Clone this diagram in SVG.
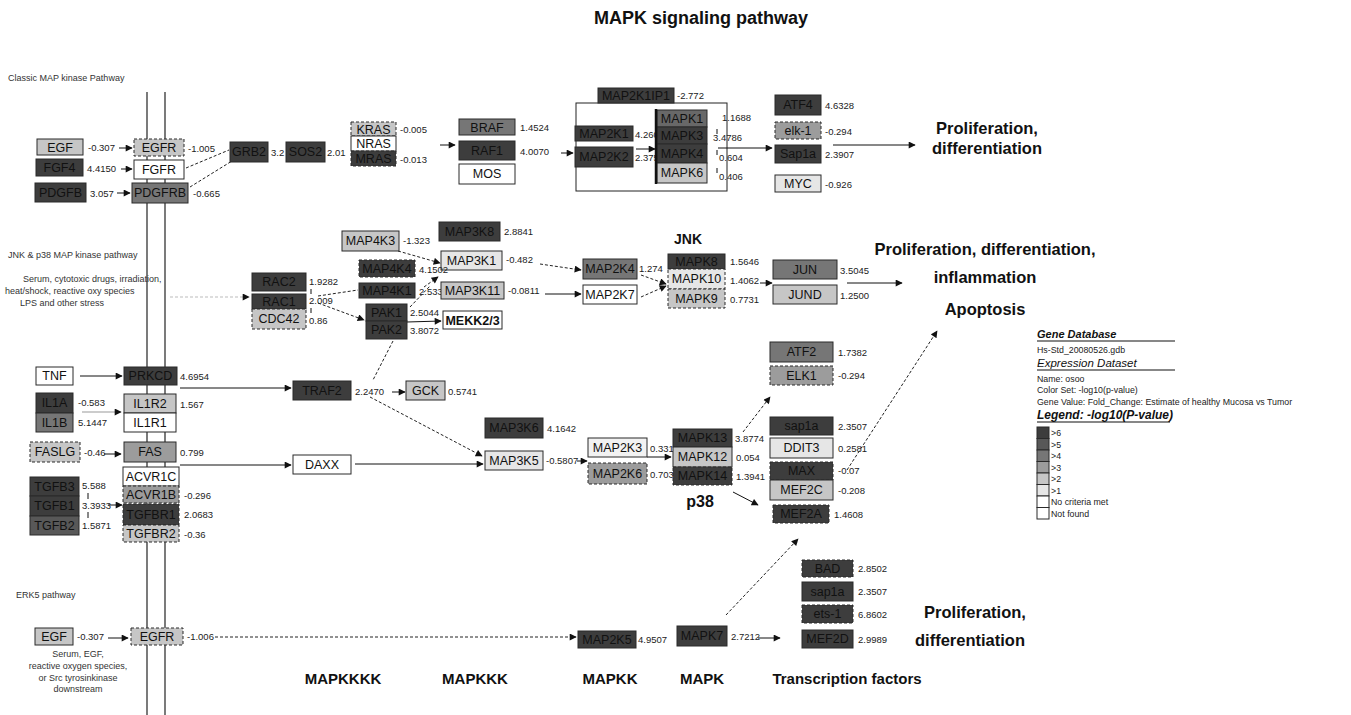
<svg xmlns="http://www.w3.org/2000/svg" width="1351" height="715" viewBox="0 0 1351 715">
<defs>
<marker id="ah" viewBox="0 0 10 10" refX="9" refY="5" markerWidth="9" markerHeight="7" markerUnits="userSpaceOnUse" orient="auto"><path d="M0,0 L10,5 L0,10 z" fill="#111"/></marker>
<style>
text{font-family:"Liberation Sans",Arial,sans-serif}
.b{stroke:#2a2a2a;stroke-width:1}
.ds{stroke-dasharray:3,2}
.d6{fill:#3d3d3d}.d5{fill:#585858}.d4{fill:#767676}.d3{fill:#9c9c9c}.d2{fill:#c6c6c6}.d1{fill:#e6e6e6}.w{fill:#ffffff}
.l{font-size:12.5px;fill:#111;text-anchor:middle}
.v{font-size:9.5px;fill:#222}
.s{font-size:9px;fill:#333}
.big{font-size:16.5px;font-weight:bold;fill:#111;text-anchor:middle}
.cat{font-size:15px;font-weight:bold;fill:#111;text-anchor:middle}
.c{stroke:#111;stroke-width:1;fill:none}
.cd{stroke:#222;stroke-width:1;fill:none;stroke-dasharray:3,2}
.lg{font-size:8.8px;fill:#222}
</style>
</defs>
<rect width="1351" height="715" fill="#ffffff"/>
<text x="701" y="24" font-size="18" font-weight="bold" text-anchor="middle" fill="#111">MAPK signaling pathway</text>

<g id="membrane">
<line x1="147" y1="92" x2="147" y2="715" stroke="#222" stroke-width="1.2"/>
<line x1="165" y1="92" x2="165" y2="715" stroke="#222" stroke-width="1.2"/>
</g>

<g id="labels">
<text class="s" x="8" y="81">Classic MAP kinase Pathway</text>
<text class="s" x="8" y="258">JNK &amp; p38 MAP kinase pathway</text>
<text class="s" x="23" y="282">Serum, cytotoxic drugs, irradiation,</text>
<text class="s" x="5" y="294">heat/shock, reactive oxy species</text>
<text class="s" x="20" y="306">LPS and other stress</text>
<text class="s" x="16" y="598">ERK5 pathway</text>
<text class="s" x="78" y="657" text-anchor="middle">Serum, EGF,</text>
<text class="s" x="78" y="669" text-anchor="middle">reactive oxygen species,</text>
<text class="s" x="78" y="681" text-anchor="middle">or Src tyrosinkinase</text>
<text class="s" x="78" y="692" text-anchor="middle">downstream</text>
<text class="big" x="987" y="134">Proliferation,</text>
<text class="big" x="987" y="154">differentiation</text>
<text class="big" x="985" y="255">Proliferation, differentiation,</text>
<text class="big" x="985" y="283">inflammation</text>
<text class="big" x="985" y="315">Apoptosis</text>
<text class="big" x="975" y="618">Proliferation,</text>
<text class="big" x="970" y="646">differentiation</text>
<text x="688" y="244" font-size="14" font-weight="bold" text-anchor="middle" fill="#111">JNK</text>
<text x="700" y="507" font-size="16" font-weight="bold" text-anchor="middle" fill="#111">p38</text>
<text class="cat" x="343" y="684">MAPKKKK</text>
<text class="cat" x="475" y="684">MAPKKK</text>
<text class="cat" x="610" y="684">MAPKK</text>
<text class="cat" x="702" y="684">MAPK</text>
<text class="cat" x="847" y="684">Transcription factors</text>
</g>

<g id="connectors">
<line class="c" x1="119" y1="148" x2="132" y2="148" marker-end="url(#ah)"/>
<line class="c" x1="121" y1="169" x2="132" y2="169" marker-end="url(#ah)"/>
<line class="c" x1="117" y1="193" x2="130" y2="193" marker-end="url(#ah)"/>
<line class="cd" x1="186" y1="168" x2="229" y2="150"/>
<line class="cd" x1="190" y1="187" x2="232" y2="161"/>
<line class="c" x1="440" y1="145" x2="455" y2="145" marker-end="url(#ah)"/>
<line class="c" x1="561" y1="153" x2="573" y2="153" marker-end="url(#ah)"/>
<rect x="576" y="103" width="151" height="88" fill="none" stroke="#222" stroke-width="1"/>
<line class="c" x1="636" y1="149" x2="655" y2="149" marker-end="url(#ah)"/>
<line class="c" x1="718" y1="148" x2="772" y2="148" marker-end="url(#ah)"/>
<line class="c" x1="833" y1="145" x2="915" y2="145" marker-end="url(#ah)"/>
<line class="c" x1="717" y1="129" x2="717" y2="134"/>
<line class="c" x1="717" y1="150" x2="717" y2="155"/>
<line class="c" x1="717" y1="168" x2="717" y2="173"/>

<line x1="170" y1="297" x2="249" y2="297" stroke="#bbb" stroke-dasharray="3,2" marker-end="url(#ah)"/>
<line class="c" x1="311" y1="289" x2="311" y2="294"/>
<line class="c" x1="311" y1="308" x2="311" y2="313"/>
<line class="cd" x1="398" y1="251" x2="440" y2="263" marker-end="url(#ah)"/>
<line class="cd" x1="424" y1="287" x2="438" y2="277" marker-end="url(#ah)"/>
<line class="cd" x1="410" y1="307" x2="430" y2="286"/>
<line class="cd" x1="318" y1="296" x2="358" y2="290"/>
<line class="cd" x1="318" y1="303" x2="364" y2="320" marker-end="url(#ah)"/>
<line class="c" x1="407" y1="322" x2="441" y2="321" marker-end="url(#ah)"/>
<line class="cd" x1="393" y1="341" x2="373" y2="380"/>
<line class="cd" x1="540" y1="264" x2="581" y2="270" marker-end="url(#ah)"/>
<line class="c" x1="545" y1="294" x2="581" y2="294" marker-end="url(#ah)"/>
<line class="cd" x1="641" y1="275" x2="666" y2="284" marker-end="url(#ah)"/>
<line class="cd" x1="641" y1="297" x2="666" y2="286" marker-end="url(#ah)"/>
<line class="c" x1="760" y1="283" x2="772" y2="283" marker-end="url(#ah)"/>
<line class="c" x1="847" y1="283" x2="902" y2="283" marker-end="url(#ah)"/>

<line class="c" x1="80" y1="376" x2="122" y2="376" marker-end="url(#ah)"/>
<line class="c" x1="180" y1="388" x2="291" y2="388" marker-end="url(#ah)"/>
<line x1="82" y1="412" x2="121" y2="412" stroke="#999" marker-end="url(#ah)"/>
<line class="c" x1="104" y1="454" x2="121" y2="454" marker-end="url(#ah)"/>
<line class="c" x1="180" y1="465" x2="291" y2="465" marker-end="url(#ah)"/>
<line class="c" x1="108" y1="505" x2="122" y2="505" marker-end="url(#ah)"/>
<line class="c" x1="88" y1="493" x2="88" y2="499"/>
<line class="c" x1="88" y1="512" x2="88" y2="518"/>
<line class="c" x1="392" y1="392" x2="405" y2="392" marker-end="url(#ah)"/>
<line class="cd" x1="370" y1="397" x2="482" y2="456" marker-end="url(#ah)"/>
<line class="c" x1="355" y1="464" x2="483" y2="464" marker-end="url(#ah)"/>
<line class="c" x1="577" y1="461" x2="587" y2="461" marker-end="url(#ah)"/>
<line class="c" x1="647" y1="457" x2="671" y2="457" marker-end="url(#ah)"/>
<line class="cd" x1="743" y1="432" x2="770" y2="397" marker-end="url(#ah)"/>
<line class="c" x1="733" y1="492" x2="758" y2="505" marker-end="url(#ah)"/>
<line class="cd" x1="847" y1="470" x2="937" y2="331" marker-end="url(#ah)"/>

<line class="c" x1="108" y1="638" x2="128" y2="638" marker-end="url(#ah)"/>
<line class="cd" x1="215" y1="637" x2="576" y2="637" marker-end="url(#ah)"/>
<line class="c" x1="758" y1="638" x2="780" y2="638" marker-end="url(#ah)"/>
<line class="cd" x1="726" y1="615" x2="798" y2="539" marker-end="url(#ah)"/>
</g>

<g id="n-EGF"><rect class="b d2" x="37" y="139" width="46" height="16"/><text class="l" x="60" y="151.5">EGF</text><text class="v" x="88" y="151">-0.307</text></g>
<g id="n-EGFR"><rect class="b ds d2" x="134" y="139" width="50" height="17"/><text class="l" x="159" y="152">EGFR</text><text class="v" x="188" y="152">-1.005</text></g>
<g id="n-FGF4"><rect class="b d6" x="36" y="159" width="47" height="17"/><text class="l" x="59.5" y="172">FGF4</text><text class="v" x="87" y="172">4.4150</text></g>
<g id="n-FGFR"><rect class="b w" x="134" y="160" width="50" height="19"/><text class="l" x="159" y="174">FGFR</text></g>
<g id="n-PDGFB"><rect class="b d6" x="35" y="183" width="51" height="19"/><text class="l" x="60.5" y="197">PDGFB</text><text class="v" x="90" y="197">3.057</text></g>
<g id="n-PDGFRB"><rect class="b d4" x="132" y="183" width="56" height="20"/><text class="l" x="160" y="197">PDGFRB</text><text class="v" x="193" y="197">-0.665</text></g>
<g id="n-GRB2"><rect class="b d6" x="230" y="142" width="38" height="20"/><text class="l" x="249" y="156">GRB2</text><text class="v" x="271" y="156">3.2</text></g>
<g id="n-SOS2"><rect class="b d6" x="286" y="142" width="39" height="20"/><text class="l" x="305.5" y="156">SOS2</text><text class="v" x="327" y="156">2.01</text></g>
<g id="n-RAS">
<rect class="b ds d2" x="351" y="122" width="45" height="14"/><text class="l" x="373.5" y="133.5">KRAS</text><text class="v" x="400" y="133">-0.005</text>
<rect class="b w" x="351" y="136" width="45" height="15"/><text class="l" x="373.5" y="148">NRAS</text>
<rect class="b ds d6" x="351" y="151" width="45" height="15"/><text class="l" x="373.5" y="163">MRAS</text><text class="v" x="400" y="163">-0.013</text>
</g>
<g id="n-RAF">
<rect class="b d4" x="459" y="119" width="56" height="16"/><text class="l" x="487" y="131.5">BRAF</text><text class="v" x="520" y="131">1.4524</text>
<rect class="b d6" x="459" y="141" width="56" height="19"/><text class="l" x="487" y="155">RAF1</text><text class="v" x="520" y="155">4.0070</text>
<rect class="b w" x="459" y="164" width="56" height="20"/><text class="l" x="487" y="178">MOS</text>
</g>
<g id="n-MAP2K1IP1"><rect class="b d6" x="598" y="88" width="76" height="15"/><text class="l" x="636" y="100">MAP2K1IP1</text><text class="v" x="677" y="99">-2.772</text></g>
<g id="n-MAP2K">
<rect class="b d6" x="575" y="126" width="58" height="15"/><text class="l" x="604" y="138">MAP2K1</text><text class="v" x="635" y="138">4.260</text>
<rect class="b d6" x="575" y="147" width="58" height="20"/><text class="l" x="604" y="161">MAP2K2</text><text class="v" x="635" y="161">2.375</text>
</g>
<g id="n-MAPK-ERK">
<rect class="b" fill="#686868" x="657" y="110" width="50" height="17"/><text class="l" x="682" y="123">MAPK1</text>
<rect class="b d6" x="657" y="127" width="50" height="17"/><text class="l" x="682" y="140">MAPK3</text>
<rect class="b d6" x="657" y="144" width="50" height="19"/><text class="l" x="682" y="158">MAPK4</text>
<rect class="b d2" x="657" y="163" width="50" height="20"/><text class="l" x="682" y="177">MAPK6</text>
<line x1="656" y1="109" x2="656" y2="184" stroke="#111" stroke-width="2.5"/>
<text class="v" x="722" y="121">1.1688</text><text class="v" x="713" y="141">3.4786</text><text class="v" x="719" y="161">0.604</text><text class="v" x="719" y="180">0.406</text>
</g>
<g id="n-TF-ERK">
<rect class="b d6" x="775" y="95" width="46" height="20"/><text class="l" x="798" y="109">ATF4</text><text class="v" x="825" y="109">4.6328</text>
<rect class="b ds d3" x="775" y="122" width="46" height="17"/><text class="l" x="798" y="135">elk-1</text><text class="v" x="825" y="135">-0.294</text>
<rect class="b d6" x="775" y="145" width="46" height="18"/><text class="l" x="798" y="158">Sap1a</text><text class="v" x="825" y="158">2.3907</text>
<rect class="b d1" x="775" y="175" width="46" height="17"/><text class="l" x="798" y="188">MYC</text><text class="v" x="825" y="188">-0.926</text>
</g>

<g id="n-RAC">
<rect class="b d6" x="252" y="273" width="54" height="18"/><text class="l" x="279" y="286">RAC2</text><text class="v" x="309" y="285">1.9282</text>
<rect class="b d6" x="252" y="294" width="54" height="15"/><text class="l" x="279" y="306">RAC1</text><text class="v" x="309" y="304">2.009</text>
<rect class="b ds d2" x="252" y="309" width="54" height="20"/><text class="l" x="279" y="323">CDC42</text><text class="v" x="309" y="324">0.86</text>
</g>
<g id="n-MAP3K8"><rect class="b d6" x="439" y="222" width="61" height="19"/><text class="l" x="469.5" y="236">MAP3K8</text><text class="v" x="504" y="235">2.8841</text></g>
<g id="n-MAP4K3"><rect class="b d2" x="342" y="231" width="57" height="20"/><text class="l" x="370.5" y="245">MAP4K3</text><text class="v" x="403" y="244">-1.323</text></g>
<g id="n-MAP3K1"><rect class="b d1" x="441" y="251" width="61" height="19"/><text class="l" x="471.5" y="265">MAP3K1</text><text class="v" x="506" y="263">-0.482</text></g>
<g id="n-MAP4K4"><rect class="b ds d6" x="359" y="260" width="56" height="17"/><text class="l" x="387" y="273">MAP4K4</text><text class="v" x="419" y="273">4.1502</text></g>
<g id="n-MAP4K1"><rect class="b d6" x="359" y="283" width="56" height="15"/><text class="l" x="387" y="295">MAP4K1</text><text class="v" x="419" y="295">2.533</text></g>
<g id="n-MAP3K11"><rect class="b d2" x="441" y="282" width="63" height="17"/><text class="l" x="472.5" y="295">MAP3K11</text><text class="v" x="508" y="294">-0.0811</text></g>
<g id="n-PAK">
<rect class="b d6" x="366" y="304" width="41" height="17"/><text class="l" x="386.5" y="317">PAK1</text><text class="v" x="410" y="316">2.5044</text>
<rect class="b d6" x="366" y="321" width="41" height="18"/><text class="l" x="386.5" y="334">PAK2</text><text class="v" x="410" y="334">3.8072</text>
</g>
<g id="n-MEKK23"><rect class="b w" x="443" y="311" width="59" height="18"/><text class="l" x="472.5" y="325" font-weight="bold">MEKK2/3</text></g>
<g id="n-MAP2K4"><rect class="b d4" x="583" y="259" width="54" height="20"/><text class="l" x="610" y="273">MAP2K4</text><text class="v" x="639" y="272">1.274</text></g>
<g id="n-MAP2K7"><rect class="b w" x="583" y="285" width="54" height="19"/><text class="l" x="610" y="299">MAP2K7</text></g>
<g id="n-JNK">
<rect class="b d6" x="668" y="254" width="57" height="15"/><text class="l" x="696.5" y="266">MAPK8</text><text class="v" x="730" y="265">1.5646</text>
<rect class="b ds d1" x="668" y="269" width="57" height="20"/><text class="l" x="696.5" y="283">MAPK10</text><text class="v" x="730" y="284">1.4062</text>
<rect class="b ds d2" x="668" y="289" width="57" height="19"/><text class="l" x="696.5" y="303">MAPK9</text><text class="v" x="730" y="303">0.7731</text>
</g>
<g id="n-JUN">
<rect class="b d4" x="773" y="260" width="64" height="19"/><text class="l" x="805" y="274">JUN</text><text class="v" x="840" y="274">3.5045</text>
<rect class="b d2" x="773" y="285" width="64" height="19"/><text class="l" x="805" y="299">JUND</text><text class="v" x="840" y="299">1.2500</text>
</g>

<g id="n-TNF"><rect class="b w" x="36" y="367" width="37" height="18"/><text class="l" x="54.5" y="380">TNF</text></g>
<g id="n-PRKCD"><rect class="b d6" x="124" y="367" width="53" height="18"/><text class="l" x="150.5" y="380">PRKCD</text><text class="v" x="180" y="380">4.6954</text></g>
<g id="n-IL1">
<rect class="b d6" x="36" y="393" width="37" height="20"/><text class="l" x="54.5" y="407">IL1A</text><text class="v" x="78" y="406">-0.583</text>
<rect class="b d4" x="36" y="413" width="37" height="19"/><text class="l" x="54.5" y="427">IL1B</text><text class="v" x="78" y="426">5.1447</text>
</g>
<g id="n-IL1R">
<rect class="b d2" x="124" y="394" width="52" height="19"/><text class="l" x="150" y="408">IL1R2</text><text class="v" x="180" y="408">1.567</text>
<rect class="b w" x="124" y="413" width="52" height="19"/><text class="l" x="150" y="427">IL1R1</text>
</g>
<g id="n-FASLG"><rect class="b ds d2" x="30" y="442" width="50" height="20"/><text class="l" x="55" y="456">FASLG</text><text class="v" x="84" y="456">-0.46</text></g>
<g id="n-FAS"><rect class="b d3" x="124" y="442" width="52" height="20"/><text class="l" x="150" y="456">FAS</text><text class="v" x="180" y="456">0.799</text></g>
<g id="n-TGFBR">
<rect class="b w" x="123" y="467" width="56" height="19"/><text class="l" x="151" y="481">ACVR1C</text>
<rect class="b ds d3" x="123" y="486" width="56" height="17"/><text class="l" x="151" y="499">ACVR1B</text><text class="v" x="184" y="499">-0.296</text>
<rect class="b ds d6" x="123" y="504" width="56" height="21"/><text class="l" x="151" y="519">TGFBR1</text><text class="v" x="184" y="518">2.0683</text>
<rect class="b ds d2" x="123" y="525" width="56" height="17"/><text class="l" x="151" y="538">TGFBR2</text><text class="v" x="184" y="538">-0.36</text>
</g>
<g id="n-TGFB">
<rect class="b d6" x="30" y="477" width="49" height="19"/><text class="l" x="54.5" y="491">TGFB3</text><text class="v" x="82" y="489">5.588</text>
<rect class="b d6" x="30" y="496" width="49" height="20"/><text class="l" x="54.5" y="510">TGFB1</text><text class="v" x="82" y="509">3.3933</text>
<rect class="b d5" x="30" y="516" width="49" height="19"/><text class="l" x="54.5" y="530">TGFB2</text><text class="v" x="82" y="529">1.5871</text>
</g>
<g id="n-TRAF2"><rect class="b d6" x="293" y="381" width="58" height="19"/><text class="l" x="322" y="395">TRAF2</text><text class="v" x="355" y="395">2.2470</text></g>
<g id="n-GCK"><rect class="b d2" x="406" y="381" width="39" height="19"/><text class="l" x="425.5" y="395">GCK</text><text class="v" x="448" y="395">0.5741</text></g>
<g id="n-DAXX"><rect class="b w" x="293" y="455" width="58" height="19"/><text class="l" x="322" y="469">DAXX</text></g>
<g id="n-MAP3K6"><rect class="b d6" x="485" y="418" width="58" height="20"/><text class="l" x="514" y="432">MAP3K6</text><text class="v" x="547" y="432">4.1642</text></g>
<g id="n-MAP3K5"><rect class="b d1" x="485" y="451" width="58" height="19"/><text class="l" x="514" y="465">MAP3K5</text><text class="v" x="546" y="464">-0.5807</text></g>
<g id="n-MAP2K3"><rect class="b" fill="#f2f2f2" x="588" y="438" width="59" height="19"/><text class="l" x="617.5" y="452">MAP2K3</text><text class="v" x="650" y="452">0.331</text></g>
<g id="n-MAP2K6"><rect class="b ds d3" x="588" y="463" width="59" height="21"/><text class="l" x="617.5" y="478">MAP2K6</text><text class="v" x="650" y="478">0.703</text></g>
<g id="n-p38">
<rect class="b d6" x="673" y="429" width="59" height="18"/><text class="l" x="702.5" y="442">MAPK13</text><text class="v" x="735" y="442">3.8774</text>
<rect class="b d2" x="673" y="447" width="59" height="20"/><text class="l" x="702.5" y="461">MAPK12</text><text class="v" x="736" y="461">0.054</text>
<rect class="b ds d6" x="673" y="467" width="59" height="18"/><text class="l" x="702.5" y="480">MAPK14</text><text class="v" x="736" y="480">1.3941</text>
</g>
<g id="n-TF-p38a">
<rect class="b d4" x="770" y="342" width="63" height="20"/><text class="l" x="801.5" y="356">ATF2</text><text class="v" x="838" y="356">1.7382</text>
<rect class="b ds d3" x="770" y="366" width="63" height="19"/><text class="l" x="801.5" y="380">ELK1</text><text class="v" x="838" y="379">-0.294</text>
</g>
<g id="n-TF-p38b">
<rect class="b d6" x="770" y="417" width="63" height="18"/><text class="l" x="801.5" y="430">sap1a</text><text class="v" x="838" y="430">2.3507</text>
<rect class="b d1" x="770" y="438" width="63" height="20"/><text class="l" x="801.5" y="452">DDIT3</text><text class="v" x="838" y="452">0.2581</text>
<rect class="b ds d6" x="770" y="462" width="63" height="18"/><text class="l" x="801.5" y="475">MAX</text><text class="v" x="838" y="474">-0.07</text>
<rect class="b d2" x="770" y="480" width="63" height="20"/><text class="l" x="801.5" y="494">MEF2C</text><text class="v" x="838" y="494">-0.208</text>
</g>
<g id="n-MEF2A"><rect class="b ds d6" x="773" y="505" width="56" height="18"/><text class="l" x="801" y="518">MEF2A</text><text class="v" x="834" y="518">1.4608</text></g>

<g id="n-EGF2"><rect class="b d2" x="35" y="628" width="38" height="17"/><text class="l" x="54" y="641">EGF</text><text class="v" x="77" y="640">-0.307</text></g>
<g id="n-EGFR2"><rect class="b ds d2" x="131" y="628" width="52" height="17"/><text class="l" x="157" y="641">EGFR</text><text class="v" x="187" y="640">-1.006</text></g>
<g id="n-MAP2K5"><rect class="b d6" x="578" y="631" width="58" height="17"/><text class="l" x="607" y="644">MAP2K5</text><text class="v" x="638" y="643">4.9507</text></g>
<g id="n-MAPK7"><rect class="b d6" x="677" y="626" width="50" height="20"/><text class="l" x="702" y="640">MAPK7</text><text class="v" x="731" y="640">2.7212</text></g>
<g id="n-TF-ERK5">
<rect class="b ds d6" x="802" y="560" width="51" height="17"/><text class="l" x="827.5" y="573">BAD</text><text class="v" x="858" y="572">2.8502</text>
<rect class="b d6" x="802" y="582" width="51" height="19"/><text class="l" x="827.5" y="596">sap1a</text><text class="v" x="858" y="595">2.3507</text>
<rect class="b ds d6" x="802" y="605" width="51" height="18"/><text class="l" x="827.5" y="618">ets-1</text><text class="v" x="858" y="618">6.8602</text>
<rect class="b d6" x="802" y="630" width="51" height="18"/><text class="l" x="827.5" y="643">MEF2D</text><text class="v" x="858" y="643">2.9989</text>
</g>

<g id="legend">
<text x="1037" y="338" font-size="11" font-weight="bold" font-style="italic" fill="#111">Gene Database</text>
<line x1="1037" y1="341" x2="1175" y2="341" stroke="#111" stroke-width="1.2"/>
<text class="lg" x="1037" y="353" font-size="8">Hs-Std_20080526.gdb</text>
<text x="1037" y="367" font-size="11.5" font-style="italic" fill="#111">Expression Dataset</text>
<line x1="1037" y1="370" x2="1175" y2="370" stroke="#111" stroke-width="1.2"/>
<text class="lg" x="1037" y="382">Name: osoo</text>
<text class="lg" x="1037" y="393">Color Set: -log10(p-value)</text>
<text class="lg" x="1037" y="405">Gene Value: Fold_Change: Estimate of healthy Mucosa vs Tumor</text>
<text x="1037" y="419" font-size="12" font-weight="bold" font-style="italic" fill="#111">Legend: -log10(P-value)</text>
<line x1="1037" y1="422" x2="1170" y2="422" stroke="#111" stroke-width="1.2"/>
<rect class="b d6" x="1037" y="427" width="12" height="11.5"/><text class="lg" x="1051" y="436">&gt;6</text>
<rect class="b d5" x="1037" y="438.5" width="12" height="11.5"/><text class="lg" x="1051" y="447.5">&gt;5</text>
<rect class="b d4" x="1037" y="450" width="12" height="11.5"/><text class="lg" x="1051" y="459">&gt;4</text>
<rect class="b d3" x="1037" y="461.5" width="12" height="11.5"/><text class="lg" x="1051" y="470.5">&gt;3</text>
<rect class="b d2" x="1037" y="473" width="12" height="11.5"/><text class="lg" x="1051" y="482">&gt;2</text>
<rect class="b d1" x="1037" y="484.5" width="12" height="11.5"/><text class="lg" x="1051" y="493.5">&gt;1</text>
<rect class="b w" x="1037" y="496" width="12" height="11.5"/><text class="lg" x="1051" y="505">No criteria met</text>
<rect class="b w" x="1037" y="507.5" width="12" height="11.5"/><text class="lg" x="1051" y="516.5">Not found</text>
</g>
</svg>
